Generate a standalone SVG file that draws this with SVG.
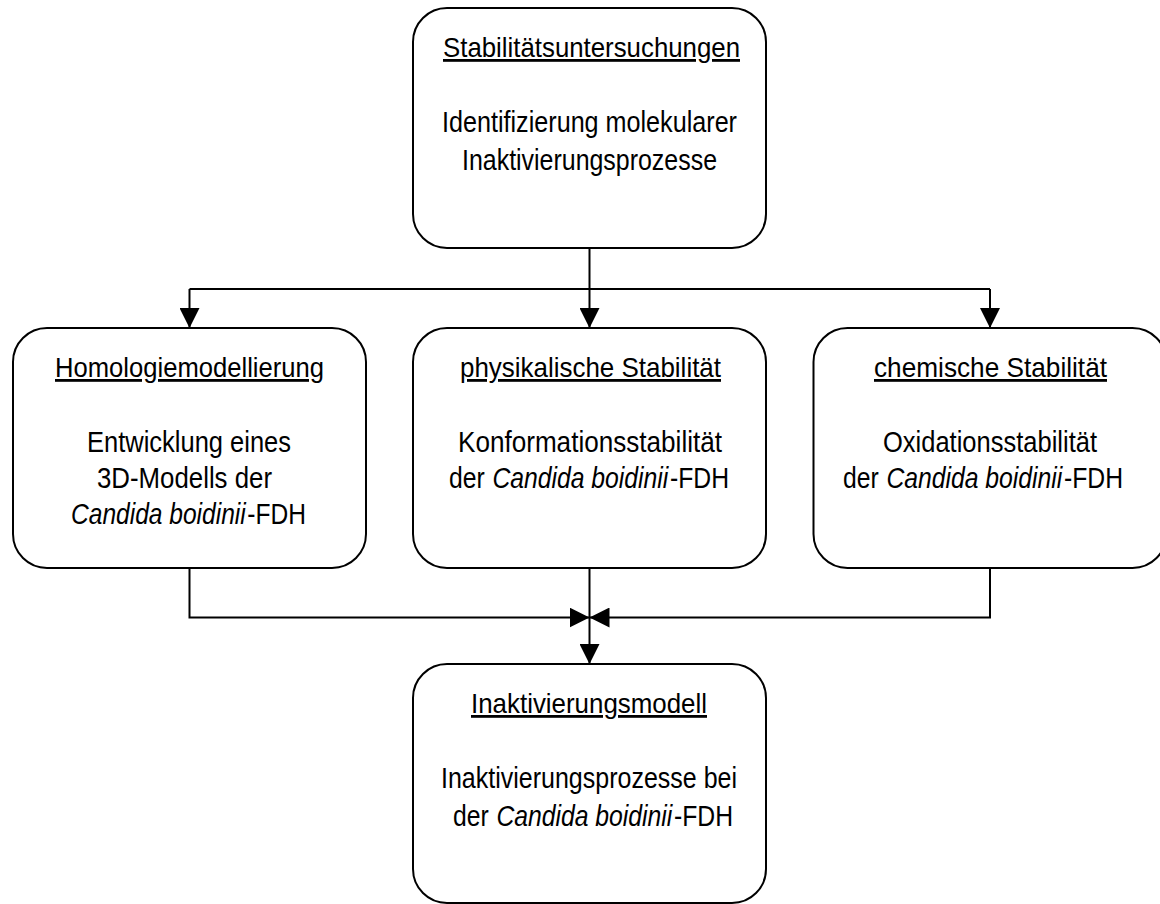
<svg xmlns="http://www.w3.org/2000/svg" width="1160" height="904" viewBox="0 0 1160 904">
<defs>
<style>
.box{fill:#fff;stroke:#000;stroke-width:2}
.t{font-family:"Liberation Sans Narrow","Arial Narrow","Liberation Sans",sans-serif;text-anchor:middle;fill:#000}
.h{font-size:28px;text-decoration:underline}
.b{font-size:30px}
.i{font-style:italic}
.c{fill:none;stroke:#000;stroke-width:2}
</style>
<marker id="ah" markerUnits="userSpaceOnUse" markerWidth="20" markerHeight="20" viewBox="0 0 20 20" refX="20" refY="10" orient="auto">
<path d="M0,0 L20,10 L0,20 Z" fill="#000"/>
</marker>
</defs>
<rect width="1160" height="904" fill="#fff"/>
<g id="connectors">
<path class="c" d="M589.5,248 V289"/>
<path class="c" d="M189.5,289 H990"/>
<path class="c" d="M589.5,289 V328" marker-end="url(#ah)"/>
<path class="c" d="M189.5,289 V328" marker-end="url(#ah)"/>
<path class="c" d="M990,289 V328" marker-end="url(#ah)"/>
<path class="c" d="M189.5,568 V617.5 H589.5" marker-end="url(#ah)"/>
<path class="c" d="M990,568 V617.5 H589.5" marker-end="url(#ah)"/>
<path class="c" d="M589.5,568 V664" marker-end="url(#ah)"/>
</g>
<g id="n_stabil">
<rect class="box" x="413" y="8" width="353" height="240" rx="34"/>
<text class="t h" x="591.5" y="57" textLength="297" lengthAdjust="spacingAndGlyphs">Stabilitätsuntersuchungen</text>
<text class="t b" x="589.5" y="132" textLength="295" lengthAdjust="spacingAndGlyphs">Identifizierung molekularer</text>
<text class="t b" x="589.5" y="170" textLength="255" lengthAdjust="spacingAndGlyphs">Inaktivierungsprozesse</text>
</g>
<g id="n_homolog">
<rect class="box" x="13" y="328" width="353" height="240" rx="34"/>
<text class="t h" x="189.5" y="377" textLength="269" lengthAdjust="spacingAndGlyphs">Homologiemodellierung</text>
<text class="t b" x="189" y="452" textLength="204" lengthAdjust="spacingAndGlyphs">Entwicklung eines</text>
<text class="t b" x="184.5" y="488" textLength="175" lengthAdjust="spacingAndGlyphs">3D-Modells der</text>
<text class="t b" x="188.5" y="524" textLength="235" lengthAdjust="spacingAndGlyphs"><tspan class="i">Candida boidinii</tspan><tspan dx="2">-FDH</tspan></text>
</g>
<g id="n_phys">
<rect class="box" x="413" y="328" width="353" height="240" rx="34"/>
<text class="t h" x="590.5" y="377" textLength="261" lengthAdjust="spacingAndGlyphs">physikalische Stabilität</text>
<text class="t b" x="590" y="452" textLength="264" lengthAdjust="spacingAndGlyphs">Konformationsstabilität</text>
<text class="t b" x="589" y="488" textLength="280" lengthAdjust="spacingAndGlyphs">der <tspan class="i" dx="1">Candida boidinii</tspan><tspan dx="2">-FDH</tspan></text>
</g>
<g id="n_chem">
<rect class="box" x="813.5" y="328" width="353" height="240" rx="34"/>
<text class="t h" x="990.5" y="377" textLength="233" lengthAdjust="spacingAndGlyphs">chemische Stabilität</text>
<text class="t b" x="990" y="452" textLength="214" lengthAdjust="spacingAndGlyphs">Oxidationsstabilität</text>
<text class="t b" x="983" y="488" textLength="280" lengthAdjust="spacingAndGlyphs">der <tspan class="i" dx="1">Candida boidinii</tspan><tspan dx="2">-FDH</tspan></text>
</g>
<g id="n_inakt">
<rect class="box" x="413" y="664" width="353" height="239" rx="34"/>
<text class="t h" x="589" y="713" textLength="236" lengthAdjust="spacingAndGlyphs">Inaktivierungsmodell</text>
<text class="t b" x="589" y="788" textLength="296" lengthAdjust="spacingAndGlyphs">Inaktivierungsprozesse bei</text>
<text class="t b" x="593" y="826" textLength="280" lengthAdjust="spacingAndGlyphs">der <tspan class="i" dx="1">Candida boidinii</tspan><tspan dx="2">-FDH</tspan></text>
</g>
</svg>
